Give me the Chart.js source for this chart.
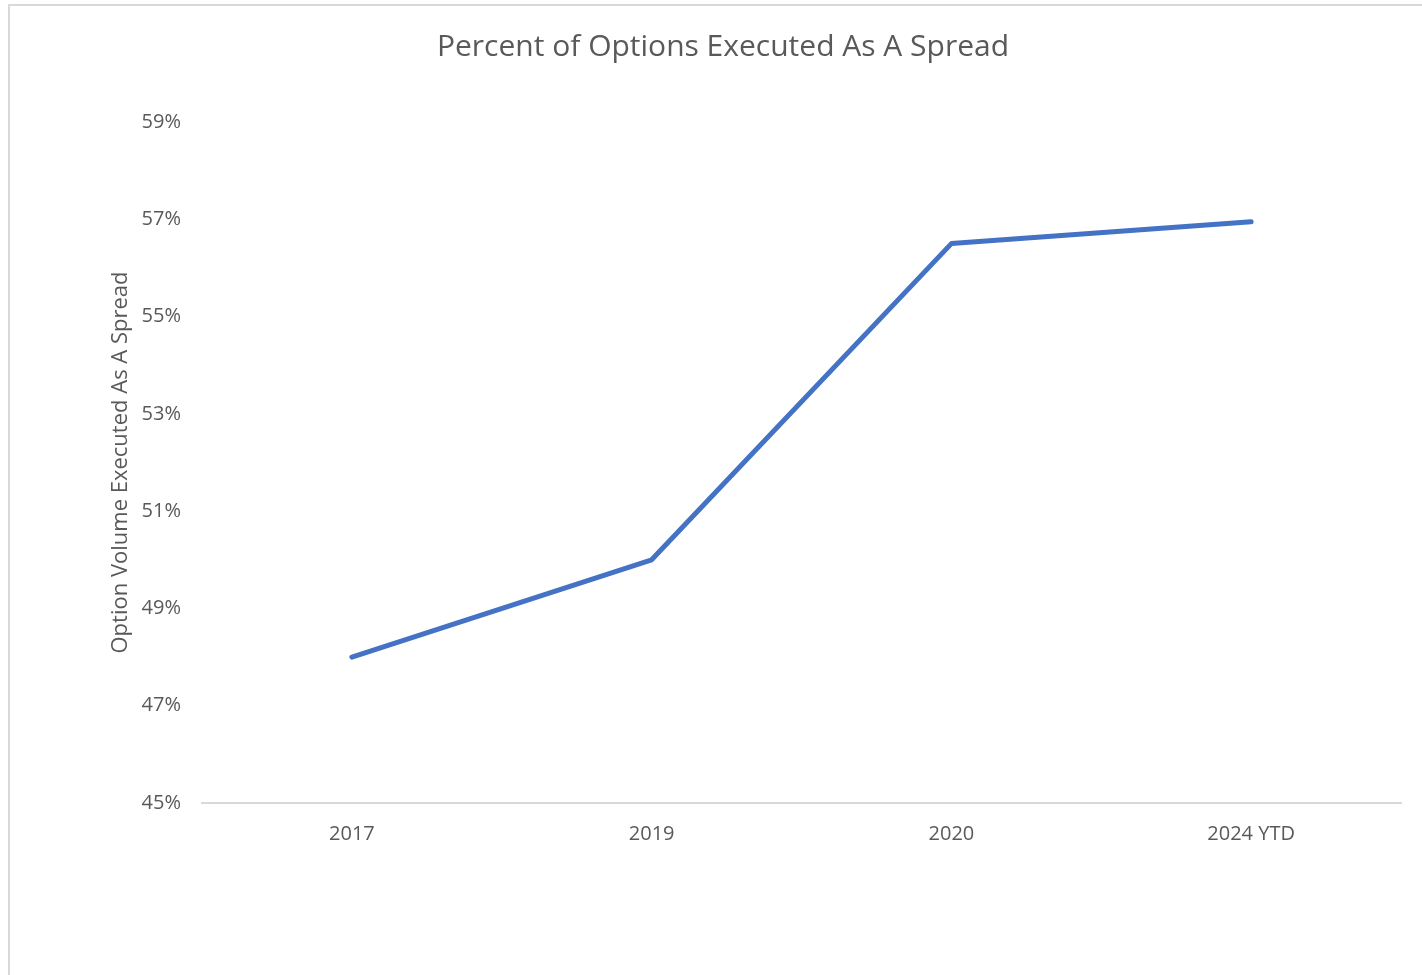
<!DOCTYPE html>
<html lang="en">
<head>
  <meta charset="UTF-8">
  <title>Percent of Options Executed As A Spread</title>
  <script src="https://cdn.jsdelivr.net/npm/chart.js"></script>
  <style>
    html, body {
      margin: 0;
      padding: 0;
      background: #ffffff;
      overflow: hidden;
    }
    .wrap {
      position: relative;
      width: 1422px;
      height: 975px;
    }
  </style>
</head>
<body>
  <div class="wrap">
    <canvas id="spreadChart" width="1422" height="975"></canvas>
  </div>

<script>
  // data
  const years = ['2017', '2019', '2020', '2024 YTD'];
  const spreadPct = [48.0, 50.0, 56.5, 56.95];
  const yMin = 45;
  const yMax = 59;
  const yStep = 2;

  const textGrey = '#595959';
  const lineBlue = '#4472C4';

  // light frame round the chart, like the Excel chart area outline
  const framePlugin = {
    id: 'frame',
    beforeDraw(chart) {
      const ctx = chart.ctx;
      ctx.save();
      ctx.strokeStyle = '#d9d9d9';
      ctx.lineWidth = 2;
      ctx.beginPath();
      ctx.moveTo(9, 975);
      ctx.lineTo(9, 5);
      ctx.lineTo(1422, 5);
      ctx.stroke();
      ctx.restore();
    }
  };

  new Chart(document.getElementById('spreadChart'), {
    type: 'line',
    data: {
      labels: years,
      datasets: [{
        label: 'Percent executed as spread',
        data: spreadPct,
        borderColor: lineBlue,
        borderWidth: 5,
        borderCapStyle: 'round',
        borderJoinStyle: 'round',
        pointRadius: 0,
        tension: 0,
        fill: false
      }]
    },
    options: {
      responsive: false,
      animation: false,
      layout: {
        // left padding keeps the title centred on the outer frame
        padding: { left: 45, right: 21, top: 0, bottom: 0 }
      },
      plugins: {
        legend: { display: false },
        tooltip: { enabled: false },
        title: {
          display: true,
          text: 'Percent of Options Executed As A Spread',
          color: textGrey,
          font: { family: 'Open Sans', size: 30, weight: 'normal' },
          padding: { top: 29, bottom: 57 }
        }
      },
      scales: {
        x: {
          offset: true,
          grid: { display: false },
          border: { display: true, color: '#d9d9d9', width: 2 },
          ticks: {
            color: textGrey,
            font: { family: 'Open Sans', size: 20 },
            padding: 11,
            maxRotation: 0
          },
          afterFit(scale) { scale.height = 172; }
        },
        y: {
          min: yMin,
          max: yMax,
          grid: { display: false },
          border: { display: false },
          ticks: {
            stepSize: yStep,
            color: textGrey,
            font: { family: 'Open Sans', size: 20 },
            padding: 13,
            callback: v => v + '%'
          },
          title: {
            display: true,
            text: 'Option Volume Executed As A Spread',
            color: textGrey,
            font: { family: 'Open Sans', size: 22 },
            padding: { top: 63, bottom: 4 }
          },
          afterFit(scale) { scale.width = 157; }
        }
      }
    },
    plugins: [framePlugin]
  });
</script>
</body>
</html>
